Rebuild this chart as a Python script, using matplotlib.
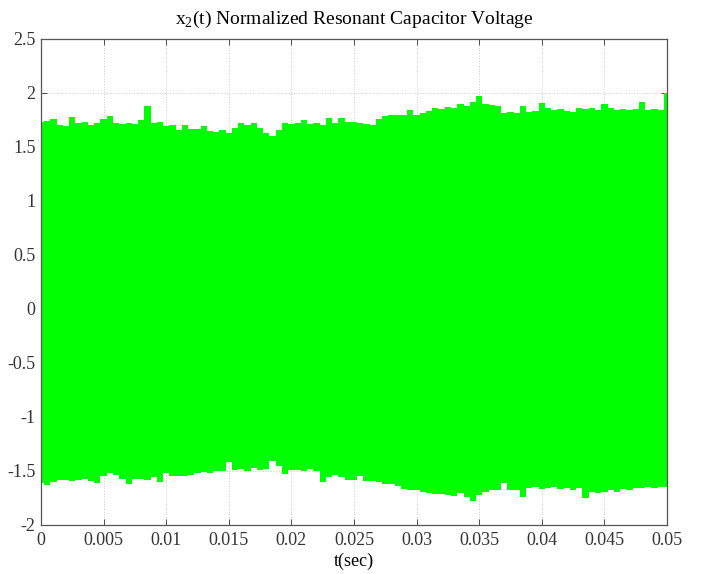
import matplotlib.pyplot as plt
import numpy as np
from matplotlib.ticker import FormatStrFormatter

plt.rcParams['font.family'] = ['Liberation Serif', 'DejaVu Serif']
plt.rcParams['axes.unicode_minus'] = False
plt.rcParams['mathtext.fontset'] = 'custom'
plt.rcParams['mathtext.rm'] = 'Liberation Serif'

t_env = np.arange(101) * 0.0005
upper_env = [
    1.73, 1.74, 1.76, 1.70, 1.69, 1.78, 1.72, 1.73, 1.70, 1.72,
    1.76, 1.79, 1.72, 1.71, 1.72, 1.71, 1.75, 1.88, 1.72, 1.73,
    1.69, 1.70, 1.66, 1.70, 1.67, 1.67, 1.69, 1.65, 1.64, 1.66,
    1.63, 1.68, 1.72, 1.70, 1.72, 1.68, 1.63, 1.60, 1.66, 1.72,
    1.71, 1.72, 1.75, 1.71, 1.72, 1.70, 1.77, 1.72, 1.77, 1.73,
    1.73, 1.72, 1.71, 1.70, 1.76, 1.79, 1.80, 1.80, 1.80, 1.84,
    1.80, 1.81, 1.83, 1.86, 1.85, 1.87, 1.86, 1.90, 1.88, 1.92,
    1.97, 1.90, 1.89, 1.88, 1.81, 1.82, 1.81, 1.88, 1.82, 1.83,
    1.91, 1.86, 1.84, 1.85, 1.83, 1.82, 1.86, 1.85, 1.86, 1.84,
    1.90, 1.86, 1.84, 1.85, 1.84, 1.85, 1.92, 1.84, 1.85, 1.84,
    2.00,
]
lower_env = [
    -1.61, -1.63, -1.60, -1.58, -1.58, -1.59, -1.58, -1.57, -1.59, -1.61,
    -1.55, -1.52, -1.54, -1.57, -1.62, -1.57, -1.57, -1.58, -1.56, -1.60,
    -1.52, -1.55, -1.55, -1.55, -1.54, -1.52, -1.51, -1.52, -1.50, -1.50,
    -1.42, -1.49, -1.48, -1.50, -1.47, -1.49, -1.48, -1.41, -1.45, -1.53,
    -1.49, -1.49, -1.50, -1.48, -1.50, -1.60, -1.56, -1.54, -1.56, -1.58,
    -1.58, -1.55, -1.59, -1.59, -1.60, -1.62, -1.62, -1.64, -1.67, -1.68,
    -1.68, -1.69, -1.70, -1.71, -1.71, -1.72, -1.73, -1.70, -1.74, -1.78,
    -1.72, -1.69, -1.68, -1.68, -1.61, -1.68, -1.68, -1.74, -1.66, -1.65,
    -1.67, -1.66, -1.65, -1.67, -1.66, -1.68, -1.66, -1.75, -1.69, -1.70,
    -1.69, -1.68, -1.69, -1.67, -1.68, -1.66, -1.66, -1.65, -1.66, -1.65,
    -1.65,
]
x_ticks = [0, 0.005, 0.01, 0.015, 0.02, 0.025, 0.03, 0.035, 0.04, 0.045, 0.05]
y_ticks = [-2, -1.5, -1, -0.5, 0, 0.5, 1, 1.5, 2, 2.5]

fig = plt.figure(figsize=(7.02, 5.74), dpi=100)
ax = fig.add_axes([0.0584, 0.0854, 0.8917, 0.8467])

ax.fill_between(t_env, lower_env, upper_env, step='mid', color='#00ff00',
                linewidth=0, zorder=2)

ax.set_xlim(0, 0.05)
ax.set_ylim(-2, 2.5)
ax.set_xticks(x_ticks)
ax.set_yticks(y_ticks)
ax.xaxis.set_major_formatter(FormatStrFormatter('%g'))
ax.yaxis.set_major_formatter(FormatStrFormatter('%g'))
ax.tick_params(direction='in', top=True, right=True, labelsize=13,
               length=4, width=0.6, colors='#333333', pad=5)
ax.tick_params(axis='y', pad=4)
ax.grid(True, linestyle=':', color='#c8c8c8', linewidth=0.7, zorder=0)
ax.set_axisbelow(True)
for s in ax.spines.values():
    s.set_color('#555555')
    s.set_linewidth(0.9)

ax.set_xlabel('t(sec)', fontsize=13, labelpad=3)
ax.set_title(r'x$_2$(t) Normalized Resonant Capacitor Voltage', fontsize=14, pad=11)

fig.savefig('out.png', dpi=100)
